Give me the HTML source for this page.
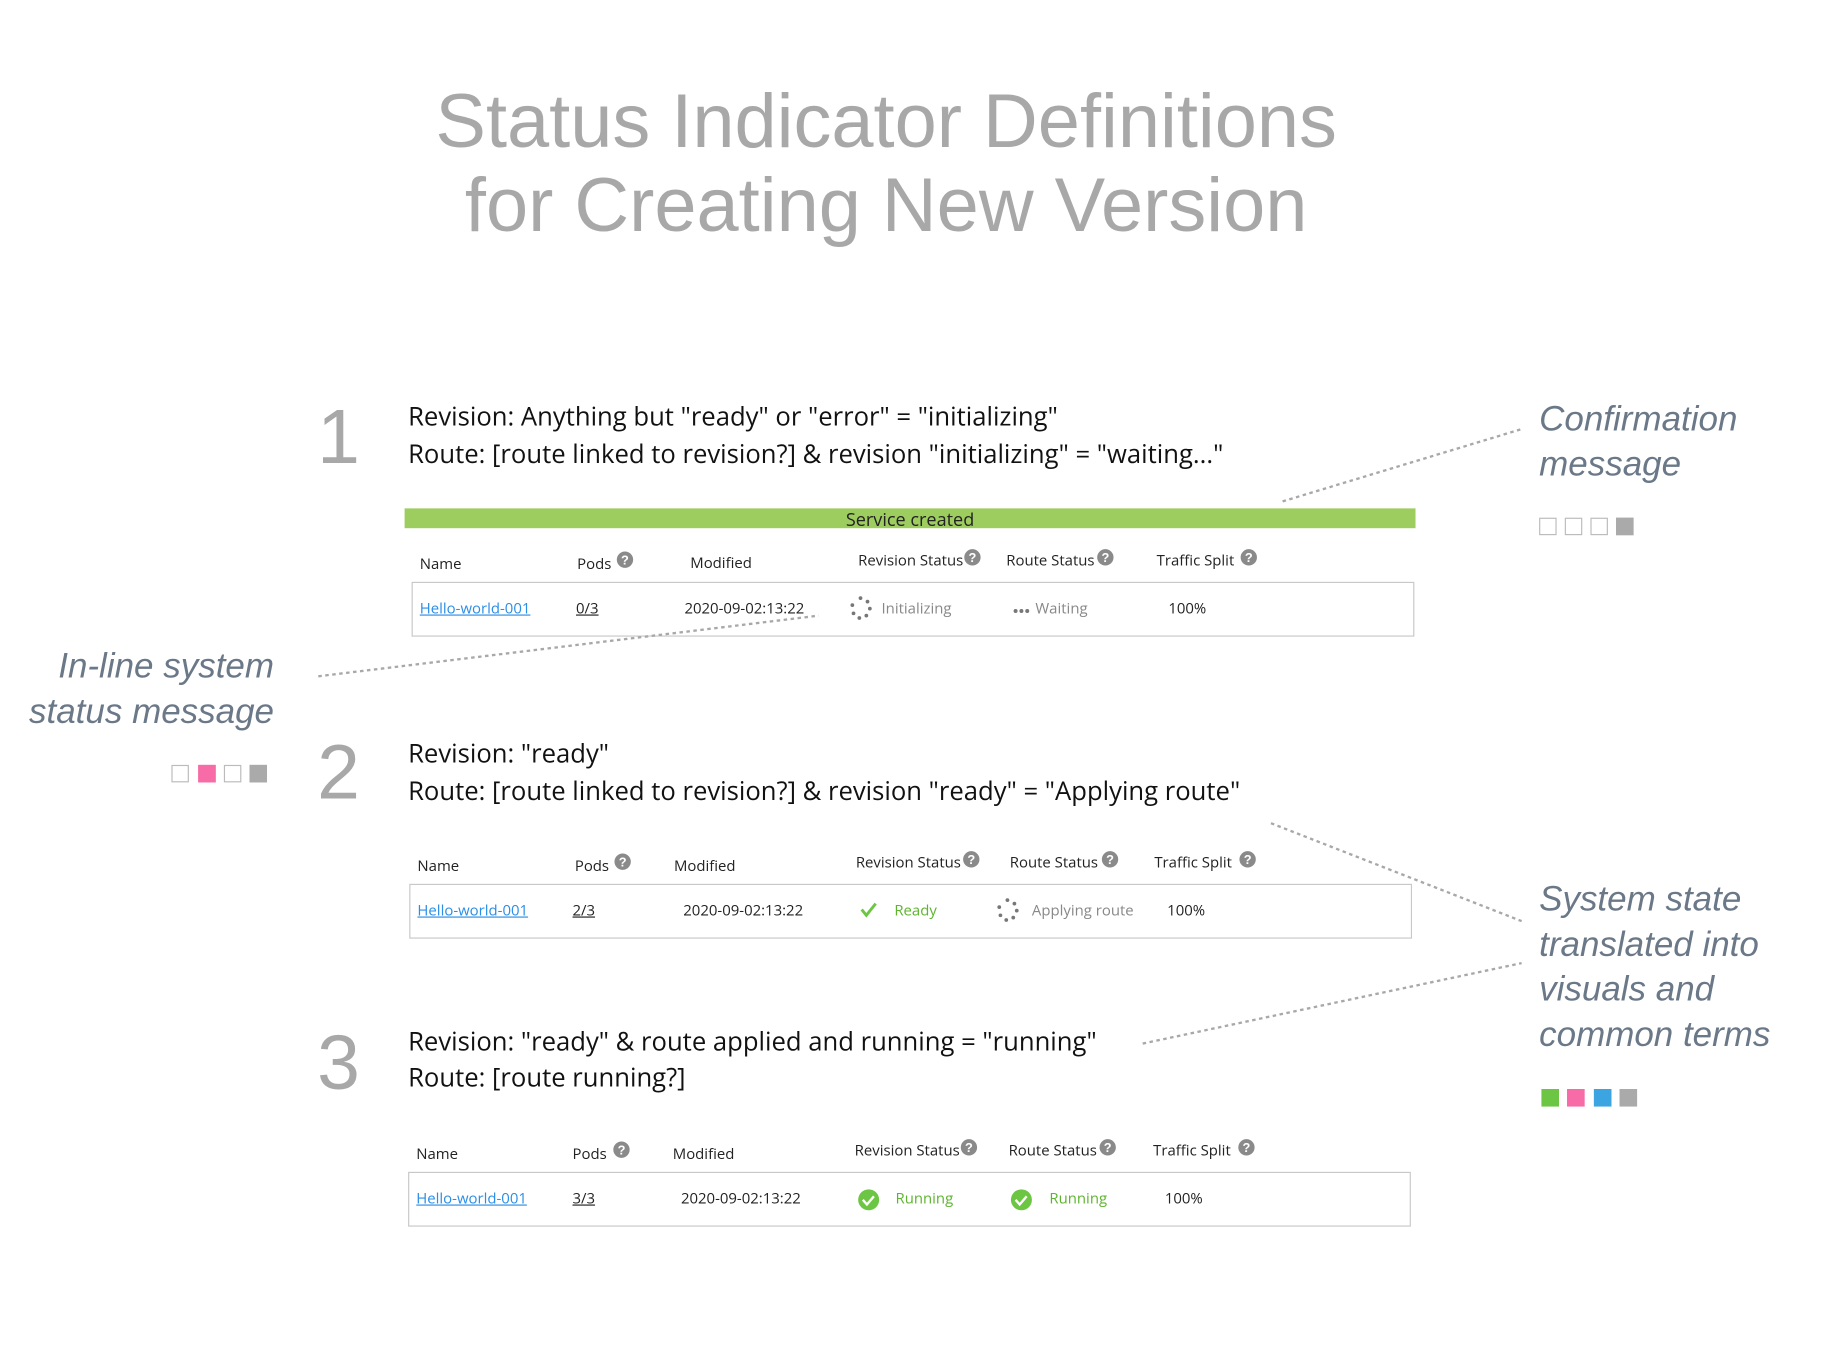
<!DOCTYPE html>
<html><head><meta charset="utf-8"><style>
html,body{margin:0;padding:0;background:#fff;width:1828px;height:1370px;overflow:hidden}
#w{position:absolute;left:0;top:0;width:1570px;height:1176px;transform:scale(1.166);transform-origin:0 0;font-family:"Open Sans","DejaVu Sans","Liberation Sans",sans-serif}
.a{position:absolute;white-space:nowrap}
.t{font-family:"Liberation Sans",sans-serif;color:#a8a8a8;font-size:65px;width:1560px;left:-20px;text-align:center}
.n{font-family:"Liberation Sans",sans-serif;color:#a8a8a8;font-size:66px;font-weight:300}
.s{font-size:22px;color:#111;line-height:23px}
.h{font-size:12.8px;color:#222;line-height:14px}
.r{font-size:12.8px;color:#222;line-height:14px}
.l{color:#2a8ee6;text-decoration:underline}
.u{text-decoration:underline}
.g{color:#888}
.gr{color:#5db42e}
.box{position:absolute;border:1px solid #c8c8c8}
.an{font-family:"Liberation Sans",sans-serif;font-style:italic;color:#6a7888;font-size:30px;line-height:38.5px}
.sq{position:absolute;width:15px;height:15px;box-sizing:border-box;border:1px solid #bbb;background:#fff}
</style></head><body><div id="w">
<div class="a t" style="top:68px;line-height:72px">Status Indicator Definitions<br>for Creating New Version</div>

<div class="a n" style="left:272px;top:336px">1</div>
<div class="a n" style="left:272px;top:624px">2</div>
<div class="a n" style="left:272px;top:873px">3</div>

<div class="a s" style="left:350px;top:346px">Revision: Anything but "ready" or "error" = "initializing"</div>
<div class="a s" style="left:350px;top:378px">Route: [route linked to revision?] &amp; revision "initializing" = "waiting..."</div>
<div class="a s" style="left:350px;top:635px">Revision: "ready"</div>
<div class="a s" style="left:350px;top:667px">Route: [route linked to revision?] &amp; revision "ready" = "Applying route"</div>
<div class="a s" style="left:350px;top:882px">Revision: "ready" &amp; route applied and running = "running"</div>
<div class="a s" style="left:350px;top:913px">Route: [route running?]</div>

<div class="a" style="left:347px;top:436px;width:867px;height:17px;background:#9dcd5e;text-align:center;font-size:15.5px;line-height:19px;color:#222">Service created</div>

<div class="a h" style="left:360px;top:476px">Name</div>
<div class="a h" style="left:495px;top:476px">Pods</div>
<div class="a h" style="left:592px;top:475px">Modified</div>
<div class="a h" style="left:736px;top:473px">Revision Status</div>
<div class="a h" style="left:863px;top:473px">Route Status</div>
<div class="a h" style="left:992px;top:473px">Traffic Split</div>
<div class="box" style="left:353px;top:499px;width:858px;height:45px"></div>
<div class="a r l" style="left:360px;top:514px">Hello-world-001</div>
<div class="a r u" style="left:494px;top:514px">0/3</div>
<div class="a r" style="left:587px;top:514px">2020-09-02:13:22</div>
<div class="a r g" style="left:756px;top:514px">Initializing</div>
<div class="a r g" style="left:888px;top:514px">Waiting</div>
<div class="a r" style="left:1002px;top:514px">100%</div>

<div class="a h" style="left:358px;top:735px">Name</div>
<div class="a h" style="left:493px;top:735px">Pods</div>
<div class="a h" style="left:578px;top:735px">Modified</div>
<div class="a h" style="left:734px;top:732px">Revision Status</div>
<div class="a h" style="left:866px;top:732px">Route Status</div>
<div class="a h" style="left:990px;top:732px">Traffic Split</div>
<div class="box" style="left:351px;top:758px;width:858px;height:45px"></div>
<div class="a r l" style="left:358px;top:773px">Hello-world-001</div>
<div class="a r u" style="left:491px;top:773px">2/3</div>
<div class="a r" style="left:586px;top:773px">2020-09-02:13:22</div>
<div class="a r gr" style="left:767px;top:773px">Ready</div>
<div class="a r g" style="left:885px;top:773px">Applying route</div>
<div class="a r" style="left:1001px;top:773px">100%</div>

<div class="a h" style="left:357px;top:982px">Name</div>
<div class="a h" style="left:491px;top:982px">Pods</div>
<div class="a h" style="left:577px;top:982px">Modified</div>
<div class="a h" style="left:733px;top:979px">Revision Status</div>
<div class="a h" style="left:865px;top:979px">Route Status</div>
<div class="a h" style="left:989px;top:979px">Traffic Split</div>
<div class="box" style="left:350px;top:1005px;width:858px;height:45px"></div>
<div class="a r l" style="left:357px;top:1020px">Hello-world-001</div>
<div class="a r u" style="left:491px;top:1020px">3/3</div>
<div class="a r" style="left:584px;top:1020px">2020-09-02:13:22</div>
<div class="a r gr" style="left:768px;top:1020px">Running</div>
<div class="a r gr" style="left:900px;top:1020px">Running</div>
<div class="a r" style="left:999px;top:1020px">100%</div>

<div class="a an" style="left:1320px;top:341px">Confirmation<br>message</div>
<div class="a an" style="right:1335px;top:553px;text-align:right">In-line system<br>status message</div>
<div class="a an" style="left:1320px;top:753px">System state<br>translated into<br>visuals and<br>common terms</div>

<div class="sq" style="left:1320px;top:444px"></div>
<div class="sq" style="left:1342px;top:444px"></div>
<div class="sq" style="left:1364px;top:444px"></div>
<div class="sq" style="left:1386px;top:444px;background:#aaa;border-color:#aaa"></div>

<div class="sq" style="left:147px;top:656px"></div>
<div class="sq" style="left:170px;top:656px;background:#f76ba6;border-color:#f76ba6"></div>
<div class="sq" style="left:192px;top:656px"></div>
<div class="sq" style="left:214px;top:656px;background:#aaa;border-color:#aaa"></div>

<div class="sq" style="left:1322px;top:934px;background:#6cc644;border-color:#6cc644"></div>
<div class="sq" style="left:1344px;top:934px;background:#f76ba6;border-color:#f76ba6"></div>
<div class="sq" style="left:1367px;top:934px;background:#3ca4e0;border-color:#3ca4e0"></div>
<div class="sq" style="left:1389px;top:934px;background:#aaa;border-color:#aaa"></div>

<svg class="a" style="left:0;top:0" width="1570" height="1176">
<g stroke="#a8a8a8" stroke-width="2" stroke-dasharray="3 3" fill="none">
<line x1="1100" y1="430" x2="1305" y2="368"/>
<line x1="273" y1="580" x2="702" y2="528"/>
<line x1="1090" y1="706" x2="1305" y2="790"/>
<line x1="980" y1="895" x2="1305" y2="826"/>
</g>
<g fill="#8a8a8a">
<circle cx="536" cy="480" r="7"/><circle cx="834" cy="478" r="7"/><circle cx="948" cy="478" r="7"/><circle cx="1071" cy="478" r="7"/>
<circle cx="534" cy="739" r="7"/><circle cx="833" cy="737" r="7"/><circle cx="952" cy="737" r="7"/><circle cx="1070" cy="737" r="7"/>
<circle cx="533" cy="986" r="7"/><circle cx="831" cy="984" r="7"/><circle cx="950" cy="984" r="7"/><circle cx="1069" cy="984" r="7"/>
</g>
<g fill="#fff" font-family="Liberation Sans" font-weight="bold" font-size="11" text-anchor="middle">
<text x="536" y="484">?</text><text x="834" y="482">?</text><text x="948" y="482">?</text><text x="1071" y="482">?</text>
<text x="534" y="743">?</text><text x="833" y="741">?</text><text x="952" y="741">?</text><text x="1070" y="741">?</text>
<text x="533" y="990">?</text><text x="831" y="988">?</text><text x="950" y="988">?</text><text x="1069" y="988">?</text>
</g>
<g fill="#777">
<circle cx="738" cy="513" r="1.6"/><circle cx="744" cy="516" r="1.6"/><circle cx="746" cy="522" r="1.6"/><circle cx="743" cy="528" r="1.6"/><circle cx="737" cy="530" r="1.6"/><circle cx="732" cy="526" r="1.6"/><circle cx="731" cy="519" r="1.6"/>
<circle cx="864" cy="772" r="1.6"/><circle cx="870" cy="775" r="1.6"/><circle cx="872" cy="781" r="1.6"/><circle cx="869" cy="787" r="1.6"/><circle cx="863" cy="789" r="1.6"/><circle cx="858" cy="785" r="1.6"/><circle cx="857" cy="778" r="1.6"/>
<circle cx="871" cy="524" r="1.7"/><circle cx="876" cy="524" r="1.7"/><circle cx="881" cy="524" r="1.7"/>
</g>
<path d="M739 780 l4 5 l8 -10" stroke="#6cc644" stroke-width="2.5" fill="none"/>
<circle cx="745" cy="1029" r="9" fill="#6cc644"/><path d="M740 1029 l3.5 4 l6 -7" stroke="#fff" stroke-width="2" fill="none"/>
<circle cx="876" cy="1029" r="9" fill="#6cc644"/><path d="M871 1029 l3.5 4 l6 -7" stroke="#fff" stroke-width="2" fill="none"/>
</svg>
</div></body></html>
